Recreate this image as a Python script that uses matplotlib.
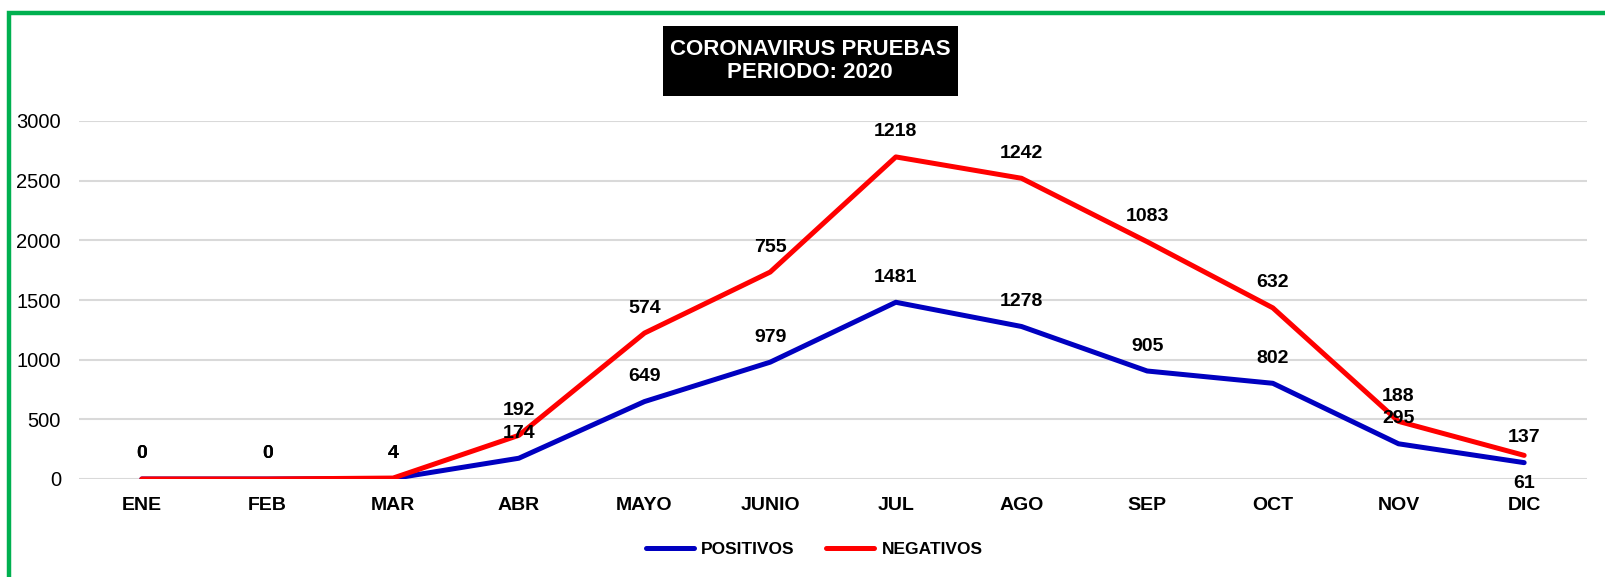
import numpy as np
import matplotlib
matplotlib.use("Agg")
import matplotlib.pyplot as plt
from matplotlib.patches import Rectangle

meses = ["ENE", "FEB", "MAR", "ABR", "MAYO", "JUNIO", "JUL", "AGO", "SEP", "OCT", "NOV", "DIC"]
positivos = [0, 0, 4, 174, 649, 979, 1481, 1278, 905, 802, 295, 137]
negativos = [0, 0, 4, 192, 574, 755, 1218, 1242, 1083, 632, 188, 61]

narrow = ["Liberation Sans Narrow", "Liberation Sans", "DejaVu Sans"]
plt.rcParams["font.family"] = narrow

W, H = 1605, 577
fig = plt.figure(figsize=(W / 100, H / 100), dpi=100)
fig.patch.set_facecolor("white")

# green frame (only left and top visible in reference)
fig.patches.append(Rectangle((9 / W, -0.1), 1.2, (H - 13) / H + 0.1, transform=fig.transFigure,
                             fill=False, edgecolor="#00b050", linewidth=3.2, zorder=0))

ax = fig.add_axes([79 / W, (H - 479) / H, (1587 - 79) / W, (479 - 121) / H])
x = np.arange(len(meses))
pos = np.array(positivos)
tot = pos + np.array(negativos)

ax.plot(x, pos, color="#0000c0", lw=3.6, solid_capstyle="round", zorder=3, label="POSITIVOS")
ax.plot(x, tot, color="#ff0000", lw=3.6, solid_capstyle="round", zorder=4, label="NEGATIVOS")

for i in range(len(meses)):
    ax.annotate(str(positivos[i]), (x[i], pos[i]), xytext=(0, 18), textcoords="offset points",
                ha="center", va="center", fontsize=14, fontweight="bold", zorder=5)
    dy = -20 if i == len(meses) - 1 else 18
    ax.annotate(str(negativos[i]), (x[i], tot[i]), xytext=(0, dy), textcoords="offset points",
                ha="center", va="center", fontsize=14, fontweight="bold", zorder=5)

ax.set_xlim(-0.5, len(meses) - 0.5)
ax.set_ylim(0, 3000)
ax.set_yticks(np.arange(0, 3001, 500))
ax.set_xticks(x)
ax.set_xticklabels(meses, fontsize=14, fontweight="bold")
ax.tick_params(axis="y", length=0, pad=13, labelsize=14.5)
ax.tick_params(axis="x", length=0, pad=13)
ax.grid(axis="y", color="#d9d9d9", lw=1.5)
ax.set_axisbelow(True)
for s in ax.spines.values():
    s.set_visible(False)

# title box
fig.patches.append(Rectangle((663 / W, (H - 96) / H), (958 - 663) / W, 70 / H,
                             transform=fig.transFigure, facecolor="black", edgecolor="none"))
fig.text(810 / W, (H - 61) / H, "CORONAVIRUS PRUEBAS\nPERIODO: 2020", ha="center", va="center",
         color="white", fontsize=16, fontweight="bold", family=["Liberation Sans", "DejaVu Sans"],
         linespacing=1.1)

leg = fig.legend(loc="center", bbox_to_anchor=(814 / W, (H - 549) / H), ncol=2, frameon=False,
                 handlelength=2.8, columnspacing=1.8, handletextpad=0.4,
                 prop={"family": ["Liberation Sans", "DejaVu Sans"], "weight": "bold", "size": 12.5})

fig.savefig("out.png", dpi=100)
